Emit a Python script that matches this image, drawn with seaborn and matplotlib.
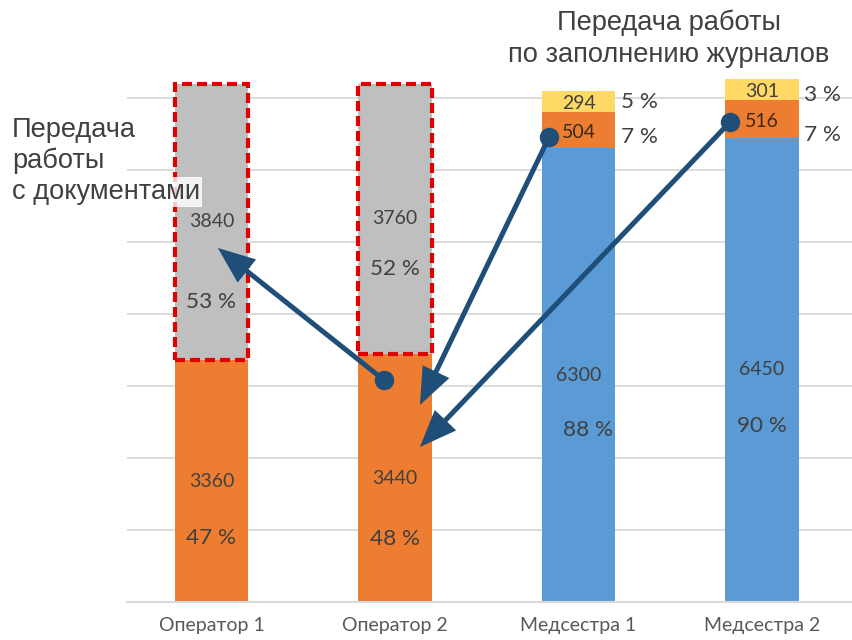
import matplotlib
matplotlib.use("Agg")
import matplotlib.pyplot as plt
import seaborn as sns
import pandas as pd
from matplotlib.patches import Rectangle, FancyArrowPatch

# --- data -------------------------------------------------------------
categories = ["Оператор 1", "Оператор 2", "Медсестра 1", "Медсестра 2"]
base_values = [3360, 3440, 6300, 6450]      # lower segment
middle_values = [3840, 3760, 504, 516]      # middle segment
top_values = [0, 0, 294, 301]               # upper segment (nurses only)
base_pct = ["47 %", "48 %", "88 %", "90 %"]
middle_pct = ["53 %", "52 %", "7 %", "7 %"]
top_pct = ["", "", "5 %", "3 %"]

title_docs = ["Передача", "работы", "с документами"]
title_journals = ["Передача работы", "по заполнению журналов"]

# --- styling ------------------------------------------------------------
ORANGE = "#ED7D31"
GRAY = "#BFBFBF"
BLUE = "#5B9BD5"
YELLOW = "#FFD966"
RED = "#E00000"
NAVY = "#1F4E79"
TEXT = "#404040"

sns.set_theme(style="white")
plt.rcParams["font.family"] = ["Lato", "Open Sans", "DejaVu Sans"]

W, H = 852, 640
fig = plt.figure(figsize=(W / 100, H / 100), dpi=100)
# axes placed in pixel terms
ax_left, ax_right, ax_bottom, ax_top = 127, 852, 602, 47.6
ax = fig.add_axes([ax_left / W, 1 - ax_bottom / H,
                   (ax_right - ax_left) / W, (ax_bottom - ax_top) / H])

df = pd.DataFrame({
    "cat": categories,
    "base": base_values,
    "middle": middle_values,
    "top": top_values,
})
# cumulative heights: draw the tallest layer first, then cover it
df["upto_mid"] = df["base"] + df["middle"]
df["upto_top"] = df["upto_mid"] + df["top"]

layers = [
    ("upto_top", [YELLOW, YELLOW, YELLOW, YELLOW]),
    ("upto_mid", [GRAY, GRAY, ORANGE, ORANGE]),
    ("base", [ORANGE, ORANGE, BLUE, BLUE]),
]
bw = 0.4
for col, colors in layers:
    sns.barplot(data=df, x="cat", y=col, hue="cat", palette=colors,
                width=bw, legend=False, ax=ax, saturation=1,
                linewidth=0, zorder=2)

ax.set_xlim(-0.46, 3.49)
ax.set_ylim(0, 7700)
ax.set_yticks(range(1000, 8000, 1000))
ax.set_yticklabels([])
ax.yaxis.grid(True, color="#D9D9D9", lw=1.3, zorder=0)
ax.set_axisbelow(True)
for s in ["left", "right", "top"]:
    ax.spines[s].set_visible(False)
ax.spines["bottom"].set_color("#D9D9D9")
ax.spines["bottom"].set_linewidth(1.5)
ax.tick_params(axis="both", length=0)
ax.tick_params(axis="x", pad=11, labelsize=14, labelcolor="#595959")
ax.set_xlabel("")
ax.set_ylabel("")

# dashed frames around the transferred document work
for i in range(2):
    ax.add_patch(Rectangle((i - bw / 2, base_values[i]), bw, middle_values[i],
                           fill=False, edgecolor=RED, lw=3,
                           linestyle=(0, (2.4, 1.2)), zorder=4,
                           joinstyle="miter"))

# value and percentage labels
num_fs, pct_fs = 14, 16.2
big_drop_base = [790, 845, 765, 780]
big_drop_mid = [1110, 700]
for i in range(4):
    mid = base_values[i] / 2
    ax.text(i, mid, str(base_values[i]), ha="center", va="center",
            fontsize=num_fs, color=TEXT, zorder=5)
    dx = 0.05 if i == 2 else 0
    ax.text(i + dx, mid - big_drop_base[i], base_pct[i], ha="center",
            va="center", fontsize=pct_fs, color=TEXT, zorder=5)

for i in range(2):
    mid = base_values[i] + middle_values[i] / 2
    ax.text(i, mid, str(middle_values[i]), ha="center", va="center",
            fontsize=num_fs, color=TEXT, zorder=5)
    ax.text(i, mid - big_drop_mid[i], middle_pct[i], ha="center",
            va="center", fontsize=pct_fs, color=TEXT, zorder=5)

side_shift_mid = [90, 220]
side_shift_top = [0, 70]
for k, i in enumerate([2, 3]):
    mid_m = base_values[i] + middle_values[i] / 2
    mid_t = base_values[i] + middle_values[i] + top_values[i] / 2
    ax.text(i, mid_m - 30, str(middle_values[i]), ha="center", va="center",
            fontsize=num_fs, color="#3a2a1a", zorder=5)
    ax.text(i, mid_t - 30, str(top_values[i]), ha="center", va="center",
            fontsize=num_fs, color=TEXT, zorder=5)
    ax.text(i + bw / 2 + 0.03, mid_m - side_shift_mid[k], middle_pct[i],
            ha="left", va="center", fontsize=pct_fs, color=TEXT, zorder=5)
    ax.text(i + bw / 2 + 0.03, mid_t - side_shift_top[k], top_pct[i],
            ha="left", va="center", fontsize=pct_fs, color=TEXT, zorder=5)

# arrows showing how the work is handed over
arrows = [
    ((0.94, 3083), (0.035, 4917)),
    ((1.84, 6458), (1.136, 2736)),
    ((2.826, 6667), (1.136, 2153)),
]
for (x0, y0), (x1, y1) in arrows:
    arr = FancyArrowPatch((x0, y0), (x1, y1),
                          arrowstyle="-|>,head_length=20,head_width=8",
                          mutation_scale=1, lw=3.6, color=NAVY,
                          shrinkA=0, shrinkB=0, zorder=6,
                          joinstyle="miter", capstyle="butt")
    ax.add_patch(arr)
    ax.plot([x0], [y0], marker="o", markersize=13, color=NAVY,
            zorder=7, clip_on=False)

# captions
cap_font = ["Liberation Sans", "DejaVu Sans"]
cap_fs = 19.6
for k, line in enumerate(title_docs):
    kw = {}
    if k == len(title_docs) - 1:
        kw["bbox"] = dict(facecolor="white", alpha=0.8, edgecolor="none",
                          pad=1.5)
    fig.text(12 / W, 1 - (130 + 31 * k) / H, line, ha="left", va="center",
             fontsize=cap_fs, color=TEXT, family=cap_font, zorder=10, **kw)
for k, line in enumerate(title_journals):
    fig.text(669 / W, 1 - (23 + 32 * k) / H, line, ha="center", va="center",
             fontsize=cap_fs, color=TEXT, family=cap_font, zorder=10)

fig.savefig("out.png", dpi=100)
